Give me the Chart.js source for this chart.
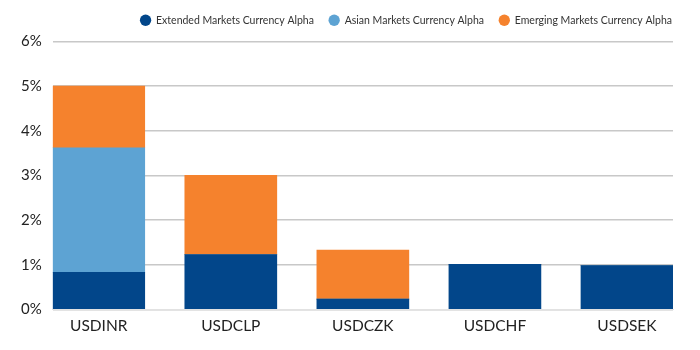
<!DOCTYPE html>
<html>
<head>
<meta charset="utf-8">
<script src="https://cdn.jsdelivr.net/npm/chart.js@4"></script>
<style>
  html, body { margin: 0; padding: 0; background: #fff; }
  #wrap { width: 700px; height: 350px; position: relative; }
</style>
</head>
<body>
<div id="wrap"><canvas id="alphaChart"></canvas></div>
<script>
// Data (alpha, %)
const pairs     = ['USDINR', 'USDCLP', 'USDCZK', 'USDCHF', 'USDSEK'];
const extended  = [0.83, 1.23, 0.23, 1.01, 0.98];
const asian     = [2.79, 0, 0, 0, 0];
const emerging  = [1.38, 1.77, 1.10, 0, 0];
const yTicks    = [0, 1, 2, 3, 4, 5, 6];

// bars sit flush with both ends of the plot: half a bar (in category units) of overhang
const BAR_PX = 92;
const EDGE = 0.3485;

const toPoints = arr => arr.map((v, i) => ({ x: i, y: v }));

// extra gap under the legend + push it to the plot's right edge
const legendTweak = {
    id: 'legendTweak',
    beforeInit(chart) {
        const legend = chart.legend;
        if (!legend) return;
        const fit = legend.fit;
        legend.fit = function () {
            fit.call(this);
            this.height += 6;
        };
    },
    afterLayout(chart) {
        if (!chart.legend) return;
        chart.legend.left += 14;
        chart.legend.right += 14;
    }
};

const ctx = document.getElementById('alphaChart');

new Chart(ctx, {
    type: 'bar',
    data: {
        datasets: [
            { label: 'Extended Markets Currency Alpha', data: toPoints(extended), backgroundColor: '#02468A' },
            { label: 'Asian Markets Currency Alpha',    data: toPoints(asian),    backgroundColor: '#5DA3D3' },
            { label: 'Emerging Markets Currency Alpha', data: toPoints(emerging), backgroundColor: '#F5822D' }
        ]
    },
    plugins: [legendTweak],
    options: {
        responsive: true,
        maintainAspectRatio: false,
        animation: false,
        layout: { padding: { left: 10, right: 27, top: 0, bottom: 8 } },
        datasets: {
            bar: { barThickness: BAR_PX, borderWidth: 0 }
        },
        plugins: {
            legend: {
                position: 'top',
                align: 'end',
                labels: {
                    usePointStyle: true,
                    pointStyle: 'circle',
                    boxWidth: 11,
                    boxHeight: 8,
                    padding: 15,
                    color: '#333',
                    font: { family: 'Lato', size: 10.5 }
                }
            },
            tooltip: { enabled: false }
        },
        scales: {
            x: {
                type: 'linear',
                stacked: true,
                offset: false,
                min: -EDGE,
                max: pairs.length - 1 + EDGE,
                afterBuildTicks: axis => { axis.ticks = pairs.map((p, i) => ({ value: i })); },
                grid: { display: false, drawTicks: false, tickLength: 0, offset: false },
                border: { color: '#e2e2e2', width: 1 },
                ticks: {
                    color: '#222',
                    font: { family: 'Lato', size: 15.5 },
                    padding: 7,
                    callback: v => pairs[v]
                }
            },
            y: {
                stacked: true,
                min: 0,
                max: 6,
                afterBuildTicks: axis => { axis.ticks = yTicks.map(v => ({ value: v })); },
                grid: { color: '#c8c8c8', lineWidth: 1.5, drawTicks: false },
                border: { display: false },
                ticks: {
                    color: '#222',
                    font: { family: 'Lato', size: 15 },
                    padding: 11,
                    callback: v => v + '%'
                }
            }
        }
    }
});
</script>
</body>
</html>
